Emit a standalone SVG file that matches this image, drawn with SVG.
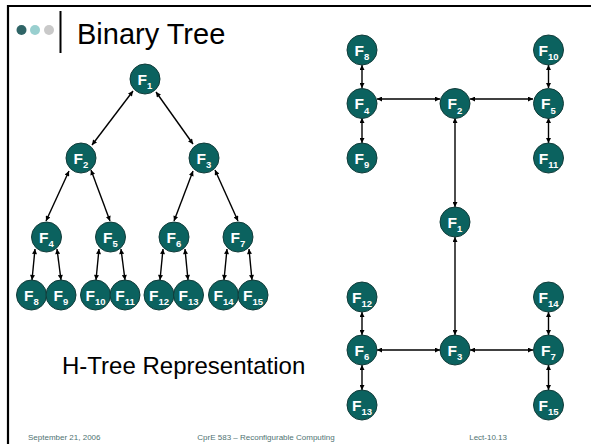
<svg xmlns="http://www.w3.org/2000/svg" width="591" height="444" viewBox="0 0 591 444">
  <style>
    .frame { stroke: #000; stroke-width: 2.2; fill: none; }
    .node circle { fill: #0b625f; stroke: #123c3a; stroke-width: 1; }
    .node text { fill: #fff; font-family: "Liberation Sans", Arial, sans-serif; font-weight: bold; font-size: 15.5px; text-anchor: middle; }
    .node tspan { font-size: 9.5px; }
    .edge { stroke: #000; stroke-width: 1.4; fill: none; marker-start: url(#ah); marker-end: url(#ah); }
    .title { font-family: "Liberation Sans", Arial, sans-serif; font-size: 29px; fill: #000; }
    .caption { font-family: "Liberation Sans", Arial, sans-serif; font-size: 24px; fill: #000; }
    .foot { font-family: "Liberation Sans", Arial, sans-serif; font-size: 8px; fill: #4f7372; }
  </style>
  <defs>
    <marker id="ah" viewBox="0 0 6 6" refX="6" refY="3" markerWidth="6" markerHeight="5" markerUnits="userSpaceOnUse" orient="auto-start-reverse">
      <path d="M0,0 L6,3 L0,6 z" fill="#000"/>
    </marker>
  </defs>

  <rect width="591" height="444" fill="#fff"/>

  <!-- slide frame -->
  <path class="frame" d="M8,444 V6 H591"/>

  <!-- header -->
  <g id="header">
    <circle cx="21.5" cy="30" r="5" fill="#2f6466"/>
    <circle cx="35" cy="30" r="5" fill="#99cfcf"/>
    <circle cx="49" cy="30" r="5" fill="#c9c9c9"/>
    <line x1="60.5" y1="11" x2="60.5" y2="53" stroke="#000" stroke-width="2"/>
    <text class="title" x="77" y="44">Binary Tree</text>
  </g>

  <!-- connectors -->
  <g id="connectors">
    <!-- binary tree -->
    <line class="edge" x1="133" y1="91" x2="92" y2="145"/>
    <line class="edge" x1="156" y1="92" x2="193" y2="144"/>
    <line class="edge" x1="69" y1="171" x2="46" y2="221"/>
    <line class="edge" x1="91" y1="170" x2="110" y2="221"/>
    <line class="edge" x1="193" y1="171" x2="174" y2="221"/>
    <line class="edge" x1="215" y1="170" x2="238" y2="221"/>
    <line class="edge" x1="35" y1="249" x2="32" y2="280"/>
    <line class="edge" x1="57" y1="249" x2="61" y2="280"/>
    <line class="edge" x1="99" y1="249" x2="96" y2="280"/>
    <line class="edge" x1="121" y1="249" x2="125" y2="280"/>
    <line class="edge" x1="163" y1="249" x2="160" y2="280"/>
    <line class="edge" x1="185" y1="249" x2="188" y2="280"/>
    <line class="edge" x1="227" y1="249" x2="224" y2="280"/>
    <line class="edge" x1="249" y1="249" x2="252" y2="280"/>
    <!-- h-tree -->
    <line class="edge" x1="362" y1="65" x2="362" y2="88"/>
    <line class="edge" x1="362" y1="118" x2="362" y2="143"/>
    <line class="edge" x1="377" y1="99" x2="440" y2="99"/>
    <line class="edge" x1="470" y1="99" x2="533" y2="99"/>
    <line class="edge" x1="548.5" y1="65" x2="548.5" y2="88"/>
    <line class="edge" x1="548.5" y1="118" x2="548.5" y2="143"/>
    <line class="edge" x1="455" y1="118" x2="455" y2="207"/>
    <line class="edge" x1="455" y1="237" x2="455" y2="335"/>
    <line class="edge" x1="362" y1="312" x2="362" y2="335"/>
    <line class="edge" x1="362" y1="365" x2="362" y2="390"/>
    <line class="edge" x1="377" y1="350" x2="440" y2="350"/>
    <line class="edge" x1="470" y1="350" x2="533" y2="350"/>
    <line class="edge" x1="548.5" y1="312" x2="548.5" y2="335"/>
    <line class="edge" x1="548.5" y1="365" x2="548.5" y2="390"/>
  </g>

  <!-- binary tree nodes -->
  <g id="bt-f1" class="node"><circle cx="145" cy="79" r="15"/><text x="145" y="84.5">F<tspan dy="4.5">1</tspan></text></g>
  <g id="bt-f2" class="node"><circle cx="81" cy="158" r="15"/><text x="81" y="163.5">F<tspan dy="4.5">2</tspan></text></g>
  <g id="bt-f3" class="node"><circle cx="204" cy="158" r="15"/><text x="204" y="163.5">F<tspan dy="4.5">3</tspan></text></g>
  <g id="bt-f4" class="node"><circle cx="46.5" cy="237" r="15"/><text x="46.5" y="242.5">F<tspan dy="4.5">4</tspan></text></g>
  <g id="bt-f5" class="node"><circle cx="110.5" cy="237" r="15"/><text x="110.5" y="242.5">F<tspan dy="4.5">5</tspan></text></g>
  <g id="bt-f6" class="node"><circle cx="174" cy="237" r="15"/><text x="174" y="242.5">F<tspan dy="4.5">6</tspan></text></g>
  <g id="bt-f7" class="node"><circle cx="238" cy="237" r="15"/><text x="238" y="242.5">F<tspan dy="4.5">7</tspan></text></g>
  <g id="bt-f8" class="node"><circle cx="31.5" cy="295" r="15"/><text x="31.5" y="300.5">F<tspan dy="4.5">8</tspan></text></g>
  <g id="bt-f9" class="node"><circle cx="61" cy="295" r="15"/><text x="61" y="300.5">F<tspan dy="4.5">9</tspan></text></g>
  <g id="bt-f10" class="node"><circle cx="95.5" cy="295" r="15"/><text x="95.5" y="300.5">F<tspan dy="4.5">10</tspan></text></g>
  <g id="bt-f11" class="node"><circle cx="125" cy="295" r="15"/><text x="125" y="300.5">F<tspan dy="4.5">11</tspan></text></g>
  <g id="bt-f12" class="node"><circle cx="159" cy="295" r="15"/><text x="159" y="300.5">F<tspan dy="4.5">12</tspan></text></g>
  <g id="bt-f13" class="node"><circle cx="188.5" cy="295" r="15"/><text x="188.5" y="300.5">F<tspan dy="4.5">13</tspan></text></g>
  <g id="bt-f14" class="node"><circle cx="223.5" cy="295" r="15"/><text x="223.5" y="300.5">F<tspan dy="4.5">14</tspan></text></g>
  <g id="bt-f15" class="node"><circle cx="253" cy="295" r="15"/><text x="253" y="300.5">F<tspan dy="4.5">15</tspan></text></g>

  <!-- h-tree nodes -->
  <g id="ht-f8" class="node"><circle cx="362" cy="50" r="15"/><text x="362" y="55.5">F<tspan dy="4.5">8</tspan></text></g>
  <g id="ht-f4" class="node"><circle cx="362" cy="103.5" r="15"/><text x="362" y="109">F<tspan dy="4.5">4</tspan></text></g>
  <g id="ht-f9" class="node"><circle cx="362" cy="158" r="15"/><text x="362" y="163.5">F<tspan dy="4.5">9</tspan></text></g>
  <g id="ht-f2" class="node"><circle cx="455" cy="103.5" r="15"/><text x="455" y="109">F<tspan dy="4.5">2</tspan></text></g>
  <g id="ht-f10" class="node"><circle cx="548.5" cy="50" r="15"/><text x="548.5" y="55.5">F<tspan dy="4.5">10</tspan></text></g>
  <g id="ht-f5" class="node"><circle cx="548.5" cy="103.5" r="15"/><text x="548.5" y="109">F<tspan dy="4.5">5</tspan></text></g>
  <g id="ht-f11" class="node"><circle cx="548.5" cy="158" r="15"/><text x="548.5" y="163.5">F<tspan dy="4.5">11</tspan></text></g>
  <g id="ht-f1" class="node"><circle cx="455" cy="222" r="15"/><text x="455" y="227.5">F<tspan dy="4.5">1</tspan></text></g>
  <g id="ht-f12" class="node"><circle cx="362" cy="297" r="15"/><text x="362" y="302.5">F<tspan dy="4.5">12</tspan></text></g>
  <g id="ht-f6" class="node"><circle cx="362" cy="350" r="15"/><text x="362" y="355.5">F<tspan dy="4.5">6</tspan></text></g>
  <g id="ht-f13" class="node"><circle cx="362" cy="405" r="15"/><text x="362" y="410.5">F<tspan dy="4.5">13</tspan></text></g>
  <g id="ht-f3" class="node"><circle cx="455" cy="350" r="15"/><text x="455" y="355.5">F<tspan dy="4.5">3</tspan></text></g>
  <g id="ht-f14" class="node"><circle cx="548.5" cy="297" r="15"/><text x="548.5" y="302.5">F<tspan dy="4.5">14</tspan></text></g>
  <g id="ht-f7" class="node"><circle cx="548.5" cy="350" r="15"/><text x="548.5" y="355.5">F<tspan dy="4.5">7</tspan></text></g>
  <g id="ht-f15" class="node"><circle cx="548.5" cy="405" r="15"/><text x="548.5" y="410.5">F<tspan dy="4.5">15</tspan></text></g>

  <!-- caption and footer -->
  <text class="caption" x="62" y="374">H-Tree Representation</text>
  <text class="foot" x="28" y="440">September 21, 2006</text>
  <text class="foot" x="266" y="440" text-anchor="middle">CprE 583 – Reconfigurable Computing</text>
  <text class="foot" x="507" y="440" text-anchor="end">Lect-10.13</text>
</svg>
